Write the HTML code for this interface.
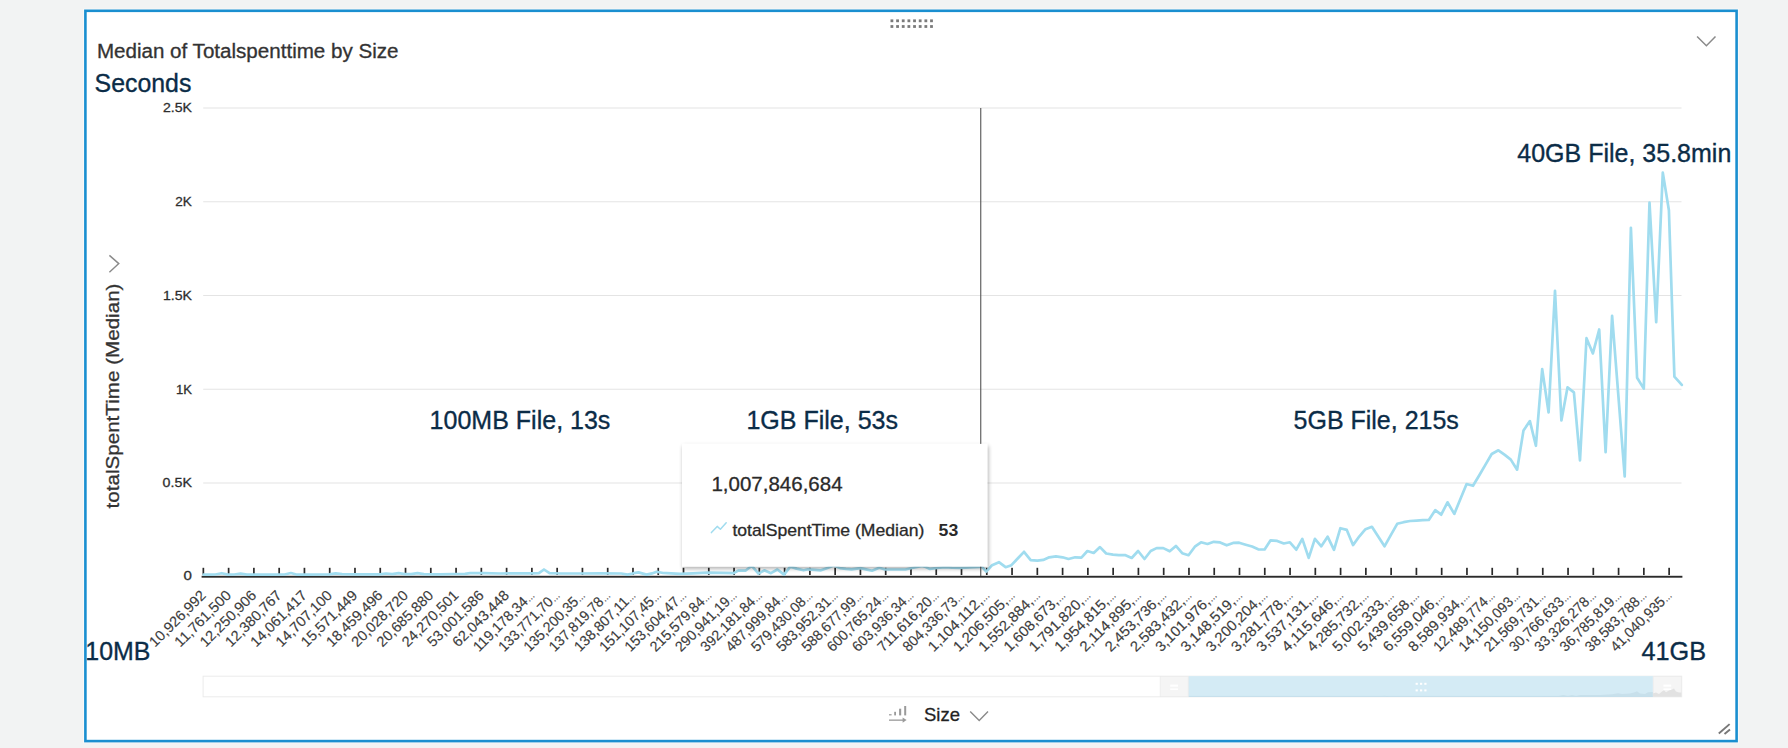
<!DOCTYPE html>
<html lang="en"><head><meta charset="utf-8"><title>Median of Totalspenttime by Size</title>
<style>
html,body{margin:0;padding:0;background:#f2f3f3;}
body{width:1788px;height:748px;overflow:hidden;font-family:"Liberation Sans", sans-serif;}
svg{position:absolute;left:0;top:0;display:block;}
text{font-family:"Liberation Sans", sans-serif;}
.h{stroke:#333;stroke-width:0.3px;paint-order:stroke;}
.x{stroke:#3d3d3d;stroke-width:0.15px;paint-order:stroke;}
.a{stroke:#0b2c47;stroke-width:0.35px;paint-order:stroke;}
</style></head><body>
<svg width="1788" height="748" viewBox="0 0 1788 748">
<defs><filter id="sh" x="-10%" y="-10%" width="120%" height="125%"><feGaussianBlur in="SourceAlpha" stdDeviation="2.2"/><feOffset dx="0.5" dy="1.5"/><feComponentTransfer><feFuncA type="linear" slope="0.33"/></feComponentTransfer><feMerge><feMergeNode/><feMergeNode in="SourceGraphic"/></feMerge></filter></defs>
<rect x="0" y="0" width="1788" height="748" fill="#f2f3f3"/>
<rect x="83.3" y="8.7" width="1655.4" height="734.5" fill="#fbfbfb"/>
<rect x="84.1" y="9.5" width="1653.8" height="732.9" fill="#ffffff"/>
<rect x="890.50" y="19.40" width="2.8" height="2.8" fill="#7a7a7a"/>
<rect x="896.16" y="19.40" width="2.8" height="2.8" fill="#7a7a7a"/>
<rect x="901.81" y="19.40" width="2.8" height="2.8" fill="#7a7a7a"/>
<rect x="907.47" y="19.40" width="2.8" height="2.8" fill="#7a7a7a"/>
<rect x="913.13" y="19.40" width="2.8" height="2.8" fill="#7a7a7a"/>
<rect x="918.78" y="19.40" width="2.8" height="2.8" fill="#7a7a7a"/>
<rect x="924.44" y="19.40" width="2.8" height="2.8" fill="#7a7a7a"/>
<rect x="930.10" y="19.40" width="2.8" height="2.8" fill="#7a7a7a"/>
<rect x="890.50" y="25.10" width="2.8" height="2.8" fill="#7a7a7a"/>
<rect x="896.16" y="25.10" width="2.8" height="2.8" fill="#7a7a7a"/>
<rect x="901.81" y="25.10" width="2.8" height="2.8" fill="#7a7a7a"/>
<rect x="907.47" y="25.10" width="2.8" height="2.8" fill="#7a7a7a"/>
<rect x="913.13" y="25.10" width="2.8" height="2.8" fill="#7a7a7a"/>
<rect x="918.78" y="25.10" width="2.8" height="2.8" fill="#7a7a7a"/>
<rect x="924.44" y="25.10" width="2.8" height="2.8" fill="#7a7a7a"/>
<rect x="930.10" y="25.10" width="2.8" height="2.8" fill="#7a7a7a"/>
<polyline points="1697.1,36.5 1706.4,45.7 1715.5,36.5" fill="none" stroke="#8a8a8a" stroke-width="1.5"/>
<text class="h" id="title" x="96.9" y="57.5" font-size="19.5" fill="#333" textLength="301.6" lengthAdjust="spacingAndGlyphs">Median of Totalspenttime by Size</text>
<line x1="203.2" x2="1681.5" y1="108.00" y2="108.00" stroke="#e4e4e4" stroke-width="1.2"/>
<line x1="203.2" x2="1681.5" y1="201.75" y2="201.75" stroke="#e4e4e4" stroke-width="1.2"/>
<line x1="203.2" x2="1681.5" y1="295.50" y2="295.50" stroke="#e4e4e4" stroke-width="1.2"/>
<line x1="203.2" x2="1681.5" y1="389.25" y2="389.25" stroke="#e4e4e4" stroke-width="1.2"/>
<line x1="203.2" x2="1681.5" y1="483.00" y2="483.00" stroke="#e4e4e4" stroke-width="1.2"/>
<text class="h" x="162.90" y="112.40" font-size="13.2" fill="#2e2e2e" textLength="29.0" lengthAdjust="spacingAndGlyphs">2.5K</text>
<text class="h" x="175.30" y="206.15" font-size="13.2" fill="#2e2e2e" textLength="16.6" lengthAdjust="spacingAndGlyphs">2K</text>
<text class="h" x="162.90" y="299.90" font-size="13.2" fill="#2e2e2e" textLength="29.0" lengthAdjust="spacingAndGlyphs">1.5K</text>
<text class="h" x="175.90" y="393.65" font-size="13.2" fill="#2e2e2e" textLength="16.0" lengthAdjust="spacingAndGlyphs">1K</text>
<text class="h" x="162.60" y="487.40" font-size="13.2" fill="#2e2e2e" textLength="29.3" lengthAdjust="spacingAndGlyphs">0.5K</text>
<text class="h" x="183.50" y="580.00" font-size="13.2" fill="#2e2e2e" textLength="8.4" lengthAdjust="spacingAndGlyphs">0</text>
<text class="h" id="ytitle" transform="translate(118.5,508.5) rotate(-90)" font-size="18.8" fill="#333" textLength="225" lengthAdjust="spacingAndGlyphs">totalSpentTime (Median)</text>
<polyline points="109.4,255.4 118.8,263.6 109.4,272.2" fill="none" stroke="#8a8a8a" stroke-width="1.4"/>
<rect x="201.6" y="575.8" width="1480.8" height="1.9" fill="#2b2b2b"/>
<rect x="202.50" y="567.8" width="1.7" height="7.2" fill="#2a2a2a"/>
<rect x="227.77" y="567.8" width="1.7" height="7.2" fill="#2a2a2a"/>
<rect x="253.04" y="567.8" width="1.7" height="7.2" fill="#2a2a2a"/>
<rect x="278.32" y="567.8" width="1.7" height="7.2" fill="#2a2a2a"/>
<rect x="303.59" y="567.8" width="1.7" height="7.2" fill="#2a2a2a"/>
<rect x="328.86" y="567.8" width="1.7" height="7.2" fill="#2a2a2a"/>
<rect x="354.13" y="567.8" width="1.7" height="7.2" fill="#2a2a2a"/>
<rect x="379.40" y="567.8" width="1.7" height="7.2" fill="#2a2a2a"/>
<rect x="404.68" y="567.8" width="1.7" height="7.2" fill="#2a2a2a"/>
<rect x="429.95" y="567.8" width="1.7" height="7.2" fill="#2a2a2a"/>
<rect x="455.22" y="567.8" width="1.7" height="7.2" fill="#2a2a2a"/>
<rect x="480.49" y="567.8" width="1.7" height="7.2" fill="#2a2a2a"/>
<rect x="505.76" y="567.8" width="1.7" height="7.2" fill="#2a2a2a"/>
<rect x="531.04" y="567.8" width="1.7" height="7.2" fill="#2a2a2a"/>
<rect x="556.31" y="567.8" width="1.7" height="7.2" fill="#2a2a2a"/>
<rect x="581.58" y="567.8" width="1.7" height="7.2" fill="#2a2a2a"/>
<rect x="606.85" y="567.8" width="1.7" height="7.2" fill="#2a2a2a"/>
<rect x="632.12" y="567.8" width="1.7" height="7.2" fill="#2a2a2a"/>
<rect x="657.40" y="567.8" width="1.7" height="7.2" fill="#2a2a2a"/>
<rect x="682.67" y="567.8" width="1.7" height="7.2" fill="#2a2a2a"/>
<rect x="707.94" y="567.8" width="1.7" height="7.2" fill="#2a2a2a"/>
<rect x="733.21" y="567.8" width="1.7" height="7.2" fill="#2a2a2a"/>
<rect x="758.48" y="567.8" width="1.7" height="7.2" fill="#2a2a2a"/>
<rect x="783.76" y="567.8" width="1.7" height="7.2" fill="#2a2a2a"/>
<rect x="809.03" y="567.8" width="1.7" height="7.2" fill="#2a2a2a"/>
<rect x="834.30" y="567.8" width="1.7" height="7.2" fill="#2a2a2a"/>
<rect x="859.57" y="567.8" width="1.7" height="7.2" fill="#2a2a2a"/>
<rect x="884.84" y="567.8" width="1.7" height="7.2" fill="#2a2a2a"/>
<rect x="910.12" y="567.8" width="1.7" height="7.2" fill="#2a2a2a"/>
<rect x="935.39" y="567.8" width="1.7" height="7.2" fill="#2a2a2a"/>
<rect x="960.66" y="567.8" width="1.7" height="7.2" fill="#2a2a2a"/>
<rect x="985.93" y="567.8" width="1.7" height="7.2" fill="#2a2a2a"/>
<rect x="1011.20" y="567.8" width="1.7" height="7.2" fill="#2a2a2a"/>
<rect x="1036.48" y="567.8" width="1.7" height="7.2" fill="#2a2a2a"/>
<rect x="1061.75" y="567.8" width="1.7" height="7.2" fill="#2a2a2a"/>
<rect x="1087.02" y="567.8" width="1.7" height="7.2" fill="#2a2a2a"/>
<rect x="1112.29" y="567.8" width="1.7" height="7.2" fill="#2a2a2a"/>
<rect x="1137.56" y="567.8" width="1.7" height="7.2" fill="#2a2a2a"/>
<rect x="1162.84" y="567.8" width="1.7" height="7.2" fill="#2a2a2a"/>
<rect x="1188.11" y="567.8" width="1.7" height="7.2" fill="#2a2a2a"/>
<rect x="1213.38" y="567.8" width="1.7" height="7.2" fill="#2a2a2a"/>
<rect x="1238.65" y="567.8" width="1.7" height="7.2" fill="#2a2a2a"/>
<rect x="1263.92" y="567.8" width="1.7" height="7.2" fill="#2a2a2a"/>
<rect x="1289.20" y="567.8" width="1.7" height="7.2" fill="#2a2a2a"/>
<rect x="1314.47" y="567.8" width="1.7" height="7.2" fill="#2a2a2a"/>
<rect x="1339.74" y="567.8" width="1.7" height="7.2" fill="#2a2a2a"/>
<rect x="1365.01" y="567.8" width="1.7" height="7.2" fill="#2a2a2a"/>
<rect x="1390.28" y="567.8" width="1.7" height="7.2" fill="#2a2a2a"/>
<rect x="1415.56" y="567.8" width="1.7" height="7.2" fill="#2a2a2a"/>
<rect x="1440.83" y="567.8" width="1.7" height="7.2" fill="#2a2a2a"/>
<rect x="1466.10" y="567.8" width="1.7" height="7.2" fill="#2a2a2a"/>
<rect x="1491.37" y="567.8" width="1.7" height="7.2" fill="#2a2a2a"/>
<rect x="1516.64" y="567.8" width="1.7" height="7.2" fill="#2a2a2a"/>
<rect x="1541.92" y="567.8" width="1.7" height="7.2" fill="#2a2a2a"/>
<rect x="1567.19" y="567.8" width="1.7" height="7.2" fill="#2a2a2a"/>
<rect x="1592.46" y="567.8" width="1.7" height="7.2" fill="#2a2a2a"/>
<rect x="1617.73" y="567.8" width="1.7" height="7.2" fill="#2a2a2a"/>
<rect x="1643.00" y="567.8" width="1.7" height="7.2" fill="#2a2a2a"/>
<rect x="1668.28" y="567.8" width="1.7" height="7.2" fill="#2a2a2a"/>
<polyline fill="none" stroke="#a0dcef" stroke-width="2.7" stroke-linejoin="round" stroke-linecap="round" points="203.6,574.6 209.9,574.6 215.4,574.5 221.7,573.2 228.0,574.6 234.3,574.5 240.6,573.7 246.9,574.6 259.5,574.6 272.1,574.6 284.6,574.5 290.9,573.0 297.2,574.7 310.0,574.6 323.0,574.5 329.4,574.4 335.7,573.3 342.0,574.2 355.0,574.3 367.0,574.3 379.7,574.3 386.0,573.5 392.3,574.2 398.6,573.1 404.9,574.2 411.2,574.1 417.5,573.2 423.8,574.2 440.0,574.3 452.0,574.0 465.0,573.8 470.0,573.2 483.6,573.2 500.0,573.5 520.0,573.3 532.6,573.3 538.9,573.2 544.0,569.5 549.5,573.2 560.0,573.5 580.0,573.5 600.0,573.4 621.3,573.5 627.6,574.6 633.9,573.2 638.5,572.4 646.5,574.6 652.0,573.4 656.7,571.7 663.0,573.0 666.8,573.2 680.0,573.9 693.0,573.3 707.6,572.7 720.0,572.9 733.8,573.2 738.2,570.7 745.4,570.7 751.8,565.8 758.5,573.6 764.3,570.3 770.9,573.2 777.4,569.5 784.0,574.6 790.3,566.6 796.6,568.6 803.6,570.3 808.0,569.3 815.0,569.9 821.0,570.3 827.5,567.9 833.8,565.6 840.0,568.1 846.0,568.8 851.6,569.3 860.3,568.1 866.0,569.4 872.0,570.7 879.2,567.8 885.0,569.5 895.0,569.5 905.4,569.5 912.0,568.0 918.5,566.6 922.0,565.9 925.7,567.0 930.0,568.9 937.0,568.0 945.2,567.2 952.0,567.6 960.3,567.8 970.0,567.3 980.0,566.9 982.0,566.9 986.3,571.6 992.1,565.2 998.9,562.2 1005.6,567.2 1011.4,565.2 1017.7,558.5 1024.0,551.8 1030.7,560.2 1037.4,560.7 1043.3,559.9 1049.2,557.3 1055.9,556.3 1062.6,557.3 1068.5,559.0 1075.2,557.3 1081.4,557.7 1087.4,551.0 1093.7,553.0 1100.0,547.1 1106.2,553.5 1113.0,554.7 1118.8,555.2 1125.5,555.2 1131.7,558.0 1138.1,551.0 1144.5,559.0 1150.7,551.0 1156.6,548.1 1163.3,548.1 1169.7,551.3 1175.9,545.9 1182.2,553.2 1188.5,555.2 1195.2,546.3 1201.0,542.3 1207.5,544.0 1213.8,541.8 1220.1,542.4 1226.7,545.3 1233.1,542.9 1239.1,542.7 1245.7,544.7 1252.1,546.5 1258.2,549.3 1264.6,549.5 1270.6,540.3 1277.2,540.9 1283.8,543.5 1289.9,542.3 1296.3,549.7 1302.3,538.9 1308.7,557.9 1314.9,538.9 1321.3,546.3 1327.6,536.7 1334.0,549.9 1340.4,528.2 1346.8,529.9 1353.0,545.1 1359.4,536.3 1365.5,529.2 1371.9,526.8 1378.2,536.5 1384.5,546.3 1390.8,535.1 1397.2,523.8 1403.6,522.2 1410.0,521.0 1416.6,520.6 1422.7,520.2 1428.8,519.9 1435.2,510.2 1441.2,514.7 1447.5,502.3 1454.3,513.9 1460.4,498.9 1466.6,484.0 1473.0,485.8 1479.3,475.2 1485.5,464.6 1491.7,454.0 1498.4,450.3 1504.8,454.9 1510.8,459.6 1517.1,469.7 1523.5,430.4 1529.9,421.1 1535.9,445.8 1542.2,369.1 1548.6,412.5 1555.0,290.8 1561.4,420.5 1567.5,387.4 1573.9,392.4 1580.0,460.3 1586.5,338.2 1592.9,353.4 1599.2,329.5 1605.6,452.1 1612.1,315.9 1618.4,396.2 1624.7,476.5 1630.9,227.9 1637.1,377.7 1643.8,388.6 1649.5,202.5 1656.2,322.2 1662.8,172.6 1668.9,210.2 1674.4,376.6 1681.8,384.9"/>
<rect x="980.2" y="108" width="1.1" height="468" fill="#555"/>
<text class="x" transform="translate(206.70,596.20) rotate(-45)" text-anchor="end" font-size="14.5" fill="#3d3d3d" textLength="73" lengthAdjust="spacingAndGlyphs">10,926,992</text>
<text class="x" transform="translate(231.97,596.20) rotate(-45)" text-anchor="end" font-size="14.5" fill="#3d3d3d" textLength="73" lengthAdjust="spacingAndGlyphs">11,761,500</text>
<text class="x" transform="translate(257.24,596.20) rotate(-45)" text-anchor="end" font-size="14.5" fill="#3d3d3d" textLength="73" lengthAdjust="spacingAndGlyphs">12,250,906</text>
<text class="x" transform="translate(282.52,596.20) rotate(-45)" text-anchor="end" font-size="14.5" fill="#3d3d3d" textLength="73" lengthAdjust="spacingAndGlyphs">12,380,767</text>
<text class="x" transform="translate(307.79,596.20) rotate(-45)" text-anchor="end" font-size="14.5" fill="#3d3d3d" textLength="73" lengthAdjust="spacingAndGlyphs">14,061,417</text>
<text class="x" transform="translate(333.06,596.20) rotate(-45)" text-anchor="end" font-size="14.5" fill="#3d3d3d" textLength="73" lengthAdjust="spacingAndGlyphs">14,707,100</text>
<text class="x" transform="translate(358.33,596.20) rotate(-45)" text-anchor="end" font-size="14.5" fill="#3d3d3d" textLength="73" lengthAdjust="spacingAndGlyphs">15,571,449</text>
<text class="x" transform="translate(383.60,596.20) rotate(-45)" text-anchor="end" font-size="14.5" fill="#3d3d3d" textLength="73" lengthAdjust="spacingAndGlyphs">18,459,496</text>
<text class="x" transform="translate(408.88,596.20) rotate(-45)" text-anchor="end" font-size="14.5" fill="#3d3d3d" textLength="73" lengthAdjust="spacingAndGlyphs">20,028,720</text>
<text class="x" transform="translate(434.15,596.20) rotate(-45)" text-anchor="end" font-size="14.5" fill="#3d3d3d" textLength="73" lengthAdjust="spacingAndGlyphs">20,685,880</text>
<text class="x" transform="translate(459.42,596.20) rotate(-45)" text-anchor="end" font-size="14.5" fill="#3d3d3d" textLength="73" lengthAdjust="spacingAndGlyphs">24,270,501</text>
<text class="x" transform="translate(484.69,596.20) rotate(-45)" text-anchor="end" font-size="14.5" fill="#3d3d3d" textLength="73" lengthAdjust="spacingAndGlyphs">53,001,586</text>
<text class="x" transform="translate(509.96,596.20) rotate(-45)" text-anchor="end" font-size="14.5" fill="#3d3d3d" textLength="73" lengthAdjust="spacingAndGlyphs">62,043,448</text>
<text class="x" transform="translate(535.24,596.20) rotate(-45)" text-anchor="end" font-size="14.5" fill="#3d3d3d"><tspan textLength="70.6" lengthAdjust="spacingAndGlyphs">119,178,34</tspan><tspan font-size="10" fill="#4a4a4a" dx="0.5" textLength="8.6" lengthAdjust="spacing">...</tspan></text>
<text class="x" transform="translate(560.51,596.20) rotate(-45)" text-anchor="end" font-size="14.5" fill="#3d3d3d"><tspan textLength="70.6" lengthAdjust="spacingAndGlyphs">133,771,70</tspan><tspan font-size="10" fill="#4a4a4a" dx="0.5" textLength="8.6" lengthAdjust="spacing">...</tspan></text>
<text class="x" transform="translate(585.78,596.20) rotate(-45)" text-anchor="end" font-size="14.5" fill="#3d3d3d"><tspan textLength="70.6" lengthAdjust="spacingAndGlyphs">135,200,35</tspan><tspan font-size="10" fill="#4a4a4a" dx="0.5" textLength="8.6" lengthAdjust="spacing">...</tspan></text>
<text class="x" transform="translate(611.05,596.20) rotate(-45)" text-anchor="end" font-size="14.5" fill="#3d3d3d"><tspan textLength="70.6" lengthAdjust="spacingAndGlyphs">137,819,78</tspan><tspan font-size="10" fill="#4a4a4a" dx="0.5" textLength="8.6" lengthAdjust="spacing">...</tspan></text>
<text class="x" transform="translate(636.32,596.20) rotate(-45)" text-anchor="end" font-size="14.5" fill="#3d3d3d"><tspan textLength="70.6" lengthAdjust="spacingAndGlyphs">138,807,11</tspan><tspan font-size="10" fill="#4a4a4a" dx="0.5" textLength="8.6" lengthAdjust="spacing">...</tspan></text>
<text class="x" transform="translate(661.60,596.20) rotate(-45)" text-anchor="end" font-size="14.5" fill="#3d3d3d"><tspan textLength="70.6" lengthAdjust="spacingAndGlyphs">151,107,45</tspan><tspan font-size="10" fill="#4a4a4a" dx="0.5" textLength="8.6" lengthAdjust="spacing">...</tspan></text>
<text class="x" transform="translate(686.87,596.20) rotate(-45)" text-anchor="end" font-size="14.5" fill="#3d3d3d"><tspan textLength="70.6" lengthAdjust="spacingAndGlyphs">153,604,47</tspan><tspan font-size="10" fill="#4a4a4a" dx="0.5" textLength="8.6" lengthAdjust="spacing">...</tspan></text>
<text class="x" transform="translate(712.14,596.20) rotate(-45)" text-anchor="end" font-size="14.5" fill="#3d3d3d"><tspan textLength="70.6" lengthAdjust="spacingAndGlyphs">215,579,84</tspan><tspan font-size="10" fill="#4a4a4a" dx="0.5" textLength="8.6" lengthAdjust="spacing">...</tspan></text>
<text class="x" transform="translate(737.41,596.20) rotate(-45)" text-anchor="end" font-size="14.5" fill="#3d3d3d"><tspan textLength="70.6" lengthAdjust="spacingAndGlyphs">290,941,19</tspan><tspan font-size="10" fill="#4a4a4a" dx="0.5" textLength="8.6" lengthAdjust="spacing">...</tspan></text>
<text class="x" transform="translate(762.68,596.20) rotate(-45)" text-anchor="end" font-size="14.5" fill="#3d3d3d"><tspan textLength="70.6" lengthAdjust="spacingAndGlyphs">392,181,84</tspan><tspan font-size="10" fill="#4a4a4a" dx="0.5" textLength="8.6" lengthAdjust="spacing">...</tspan></text>
<text class="x" transform="translate(787.96,596.20) rotate(-45)" text-anchor="end" font-size="14.5" fill="#3d3d3d"><tspan textLength="70.6" lengthAdjust="spacingAndGlyphs">487,999,84</tspan><tspan font-size="10" fill="#4a4a4a" dx="0.5" textLength="8.6" lengthAdjust="spacing">...</tspan></text>
<text class="x" transform="translate(813.23,596.20) rotate(-45)" text-anchor="end" font-size="14.5" fill="#3d3d3d"><tspan textLength="70.6" lengthAdjust="spacingAndGlyphs">579,430,08</tspan><tspan font-size="10" fill="#4a4a4a" dx="0.5" textLength="8.6" lengthAdjust="spacing">...</tspan></text>
<text class="x" transform="translate(838.50,596.20) rotate(-45)" text-anchor="end" font-size="14.5" fill="#3d3d3d"><tspan textLength="70.6" lengthAdjust="spacingAndGlyphs">583,952,31</tspan><tspan font-size="10" fill="#4a4a4a" dx="0.5" textLength="8.6" lengthAdjust="spacing">...</tspan></text>
<text class="x" transform="translate(863.77,596.20) rotate(-45)" text-anchor="end" font-size="14.5" fill="#3d3d3d"><tspan textLength="70.6" lengthAdjust="spacingAndGlyphs">588,677,99</tspan><tspan font-size="10" fill="#4a4a4a" dx="0.5" textLength="8.6" lengthAdjust="spacing">...</tspan></text>
<text class="x" transform="translate(889.04,596.20) rotate(-45)" text-anchor="end" font-size="14.5" fill="#3d3d3d"><tspan textLength="70.6" lengthAdjust="spacingAndGlyphs">600,765,24</tspan><tspan font-size="10" fill="#4a4a4a" dx="0.5" textLength="8.6" lengthAdjust="spacing">...</tspan></text>
<text class="x" transform="translate(914.32,596.20) rotate(-45)" text-anchor="end" font-size="14.5" fill="#3d3d3d"><tspan textLength="70.6" lengthAdjust="spacingAndGlyphs">603,936,34</tspan><tspan font-size="10" fill="#4a4a4a" dx="0.5" textLength="8.6" lengthAdjust="spacing">...</tspan></text>
<text class="x" transform="translate(939.59,596.20) rotate(-45)" text-anchor="end" font-size="14.5" fill="#3d3d3d"><tspan textLength="70.6" lengthAdjust="spacingAndGlyphs">711,616,20</tspan><tspan font-size="10" fill="#4a4a4a" dx="0.5" textLength="8.6" lengthAdjust="spacing">...</tspan></text>
<text class="x" transform="translate(964.86,596.20) rotate(-45)" text-anchor="end" font-size="14.5" fill="#3d3d3d"><tspan textLength="70.6" lengthAdjust="spacingAndGlyphs">804,336,73</tspan><tspan font-size="10" fill="#4a4a4a" dx="0.5" textLength="8.6" lengthAdjust="spacing">...</tspan></text>
<text class="x" transform="translate(990.13,596.20) rotate(-45)" text-anchor="end" font-size="14.5" fill="#3d3d3d"><tspan textLength="70.6" lengthAdjust="spacingAndGlyphs">1,104,112,</tspan><tspan font-size="10" fill="#4a4a4a" dx="0.5" textLength="8.6" lengthAdjust="spacing">...</tspan></text>
<text class="x" transform="translate(1015.40,596.20) rotate(-45)" text-anchor="end" font-size="14.5" fill="#3d3d3d"><tspan textLength="70.6" lengthAdjust="spacingAndGlyphs">1,206,505,</tspan><tspan font-size="10" fill="#4a4a4a" dx="0.5" textLength="8.6" lengthAdjust="spacing">...</tspan></text>
<text class="x" transform="translate(1040.68,596.20) rotate(-45)" text-anchor="end" font-size="14.5" fill="#3d3d3d"><tspan textLength="70.6" lengthAdjust="spacingAndGlyphs">1,552,884,</tspan><tspan font-size="10" fill="#4a4a4a" dx="0.5" textLength="8.6" lengthAdjust="spacing">...</tspan></text>
<text class="x" transform="translate(1065.95,596.20) rotate(-45)" text-anchor="end" font-size="14.5" fill="#3d3d3d"><tspan textLength="70.6" lengthAdjust="spacingAndGlyphs">1,608,673,</tspan><tspan font-size="10" fill="#4a4a4a" dx="0.5" textLength="8.6" lengthAdjust="spacing">...</tspan></text>
<text class="x" transform="translate(1091.22,596.20) rotate(-45)" text-anchor="end" font-size="14.5" fill="#3d3d3d"><tspan textLength="70.6" lengthAdjust="spacingAndGlyphs">1,791,820,</tspan><tspan font-size="10" fill="#4a4a4a" dx="0.5" textLength="8.6" lengthAdjust="spacing">...</tspan></text>
<text class="x" transform="translate(1116.49,596.20) rotate(-45)" text-anchor="end" font-size="14.5" fill="#3d3d3d"><tspan textLength="70.6" lengthAdjust="spacingAndGlyphs">1,954,815,</tspan><tspan font-size="10" fill="#4a4a4a" dx="0.5" textLength="8.6" lengthAdjust="spacing">...</tspan></text>
<text class="x" transform="translate(1141.76,596.20) rotate(-45)" text-anchor="end" font-size="14.5" fill="#3d3d3d"><tspan textLength="70.6" lengthAdjust="spacingAndGlyphs">2,114,895,</tspan><tspan font-size="10" fill="#4a4a4a" dx="0.5" textLength="8.6" lengthAdjust="spacing">...</tspan></text>
<text class="x" transform="translate(1167.04,596.20) rotate(-45)" text-anchor="end" font-size="14.5" fill="#3d3d3d"><tspan textLength="70.6" lengthAdjust="spacingAndGlyphs">2,453,736,</tspan><tspan font-size="10" fill="#4a4a4a" dx="0.5" textLength="8.6" lengthAdjust="spacing">...</tspan></text>
<text class="x" transform="translate(1192.31,596.20) rotate(-45)" text-anchor="end" font-size="14.5" fill="#3d3d3d"><tspan textLength="70.6" lengthAdjust="spacingAndGlyphs">2,583,432,</tspan><tspan font-size="10" fill="#4a4a4a" dx="0.5" textLength="8.6" lengthAdjust="spacing">...</tspan></text>
<text class="x" transform="translate(1217.58,596.20) rotate(-45)" text-anchor="end" font-size="14.5" fill="#3d3d3d"><tspan textLength="70.6" lengthAdjust="spacingAndGlyphs">3,101,976,</tspan><tspan font-size="10" fill="#4a4a4a" dx="0.5" textLength="8.6" lengthAdjust="spacing">...</tspan></text>
<text class="x" transform="translate(1242.85,596.20) rotate(-45)" text-anchor="end" font-size="14.5" fill="#3d3d3d"><tspan textLength="70.6" lengthAdjust="spacingAndGlyphs">3,148,519,</tspan><tspan font-size="10" fill="#4a4a4a" dx="0.5" textLength="8.6" lengthAdjust="spacing">...</tspan></text>
<text class="x" transform="translate(1268.12,596.20) rotate(-45)" text-anchor="end" font-size="14.5" fill="#3d3d3d"><tspan textLength="70.6" lengthAdjust="spacingAndGlyphs">3,200,204,</tspan><tspan font-size="10" fill="#4a4a4a" dx="0.5" textLength="8.6" lengthAdjust="spacing">...</tspan></text>
<text class="x" transform="translate(1293.40,596.20) rotate(-45)" text-anchor="end" font-size="14.5" fill="#3d3d3d"><tspan textLength="70.6" lengthAdjust="spacingAndGlyphs">3,281,778,</tspan><tspan font-size="10" fill="#4a4a4a" dx="0.5" textLength="8.6" lengthAdjust="spacing">...</tspan></text>
<text class="x" transform="translate(1318.67,596.20) rotate(-45)" text-anchor="end" font-size="14.5" fill="#3d3d3d"><tspan textLength="70.6" lengthAdjust="spacingAndGlyphs">3,537,131,</tspan><tspan font-size="10" fill="#4a4a4a" dx="0.5" textLength="8.6" lengthAdjust="spacing">...</tspan></text>
<text class="x" transform="translate(1343.94,596.20) rotate(-45)" text-anchor="end" font-size="14.5" fill="#3d3d3d"><tspan textLength="70.6" lengthAdjust="spacingAndGlyphs">4,115,646,</tspan><tspan font-size="10" fill="#4a4a4a" dx="0.5" textLength="8.6" lengthAdjust="spacing">...</tspan></text>
<text class="x" transform="translate(1369.21,596.20) rotate(-45)" text-anchor="end" font-size="14.5" fill="#3d3d3d"><tspan textLength="70.6" lengthAdjust="spacingAndGlyphs">4,285,732,</tspan><tspan font-size="10" fill="#4a4a4a" dx="0.5" textLength="8.6" lengthAdjust="spacing">...</tspan></text>
<text class="x" transform="translate(1394.48,596.20) rotate(-45)" text-anchor="end" font-size="14.5" fill="#3d3d3d"><tspan textLength="70.6" lengthAdjust="spacingAndGlyphs">5,002,333,</tspan><tspan font-size="10" fill="#4a4a4a" dx="0.5" textLength="8.6" lengthAdjust="spacing">...</tspan></text>
<text class="x" transform="translate(1419.76,596.20) rotate(-45)" text-anchor="end" font-size="14.5" fill="#3d3d3d"><tspan textLength="70.6" lengthAdjust="spacingAndGlyphs">5,439,658,</tspan><tspan font-size="10" fill="#4a4a4a" dx="0.5" textLength="8.6" lengthAdjust="spacing">...</tspan></text>
<text class="x" transform="translate(1445.03,596.20) rotate(-45)" text-anchor="end" font-size="14.5" fill="#3d3d3d"><tspan textLength="70.6" lengthAdjust="spacingAndGlyphs">6,559,046,</tspan><tspan font-size="10" fill="#4a4a4a" dx="0.5" textLength="8.6" lengthAdjust="spacing">...</tspan></text>
<text class="x" transform="translate(1470.30,596.20) rotate(-45)" text-anchor="end" font-size="14.5" fill="#3d3d3d"><tspan textLength="70.6" lengthAdjust="spacingAndGlyphs">8,589,934,</tspan><tspan font-size="10" fill="#4a4a4a" dx="0.5" textLength="8.6" lengthAdjust="spacing">...</tspan></text>
<text class="x" transform="translate(1495.57,596.20) rotate(-45)" text-anchor="end" font-size="14.5" fill="#3d3d3d"><tspan textLength="70.6" lengthAdjust="spacingAndGlyphs">12,489,774</tspan><tspan font-size="10" fill="#4a4a4a" dx="0.5" textLength="8.6" lengthAdjust="spacing">...</tspan></text>
<text class="x" transform="translate(1520.84,596.20) rotate(-45)" text-anchor="end" font-size="14.5" fill="#3d3d3d"><tspan textLength="70.6" lengthAdjust="spacingAndGlyphs">14,150,093</tspan><tspan font-size="10" fill="#4a4a4a" dx="0.5" textLength="8.6" lengthAdjust="spacing">...</tspan></text>
<text class="x" transform="translate(1546.12,596.20) rotate(-45)" text-anchor="end" font-size="14.5" fill="#3d3d3d"><tspan textLength="70.6" lengthAdjust="spacingAndGlyphs">21,569,731</tspan><tspan font-size="10" fill="#4a4a4a" dx="0.5" textLength="8.6" lengthAdjust="spacing">...</tspan></text>
<text class="x" transform="translate(1571.39,596.20) rotate(-45)" text-anchor="end" font-size="14.5" fill="#3d3d3d"><tspan textLength="70.6" lengthAdjust="spacingAndGlyphs">30,766,633</tspan><tspan font-size="10" fill="#4a4a4a" dx="0.5" textLength="8.6" lengthAdjust="spacing">...</tspan></text>
<text class="x" transform="translate(1596.66,596.20) rotate(-45)" text-anchor="end" font-size="14.5" fill="#3d3d3d"><tspan textLength="70.6" lengthAdjust="spacingAndGlyphs">33,326,278</tspan><tspan font-size="10" fill="#4a4a4a" dx="0.5" textLength="8.6" lengthAdjust="spacing">...</tspan></text>
<text class="x" transform="translate(1621.93,596.20) rotate(-45)" text-anchor="end" font-size="14.5" fill="#3d3d3d"><tspan textLength="70.6" lengthAdjust="spacingAndGlyphs">36,785,819</tspan><tspan font-size="10" fill="#4a4a4a" dx="0.5" textLength="8.6" lengthAdjust="spacing">...</tspan></text>
<text class="x" transform="translate(1647.20,596.20) rotate(-45)" text-anchor="end" font-size="14.5" fill="#3d3d3d"><tspan textLength="70.6" lengthAdjust="spacingAndGlyphs">38,583,788</tspan><tspan font-size="10" fill="#4a4a4a" dx="0.5" textLength="8.6" lengthAdjust="spacing">...</tspan></text>
<text class="x" transform="translate(1672.48,596.20) rotate(-45)" text-anchor="end" font-size="14.5" fill="#3d3d3d"><tspan textLength="70.6" lengthAdjust="spacingAndGlyphs">41,040,935</tspan><tspan font-size="10" fill="#4a4a4a" dx="0.5" textLength="8.6" lengthAdjust="spacing">...</tspan></text>
<text class="a" x="94.60" y="92.30" font-size="26.5" fill="#0b2c47" textLength="96.8" lengthAdjust="spacingAndGlyphs">Seconds</text>
<text class="a" x="429.60" y="429.10" font-size="26.0" fill="#0b2c47" textLength="180.8" lengthAdjust="spacingAndGlyphs">100MB File, 13s</text>
<text class="a" x="746.40" y="429.10" font-size="26.0" fill="#0b2c47" textLength="151.6" lengthAdjust="spacingAndGlyphs">1GB File, 53s</text>
<text class="a" x="1293.60" y="428.50" font-size="26.0" fill="#0b2c47" textLength="165.2" lengthAdjust="spacingAndGlyphs">5GB File, 215s</text>
<text class="a" x="1517.30" y="161.60" font-size="26.0" fill="#0b2c47" textLength="214.0" lengthAdjust="spacingAndGlyphs">40GB File, 35.8min</text>
<text class="a" x="85.30" y="659.80" font-size="26.0" fill="#0b2c47" textLength="65.1" lengthAdjust="spacingAndGlyphs">10MB</text>
<text class="a" x="1641.40" y="659.80" font-size="26.0" fill="#0b2c47" textLength="64.6" lengthAdjust="spacingAndGlyphs">41GB</text>
<rect x="203.1" y="676.2" width="1478.6" height="20.6" fill="#ffffff" stroke="#ebebeb" stroke-width="1"/>
<rect x="1188.1" y="676.1" width="464.8" height="20.8" fill="#d4ebf5"/>
<path d="M1386,696.9 L1386,696.2 L1382,695.6 L1390,696.4 L1480,696.4 L1540,696.3 L1559,696 L1563,694.9 L1568,696 L1572,695 L1576,696 L1580,695 L1600,694.9 L1612,694.2 L1618,693.2 L1622,694 L1630,693.6 L1634,692.6 L1637,691.2 L1640,693.6 L1645,693.9 L1648,692.3 L1652.9,692 L1652.9,696.9 Z" fill="#c8e0eb"/>
<rect x="1188.1" y="695.9" width="464.8" height="1" fill="#c6dfeb"/>
<rect x="1160.2" y="676.4" width="28.0" height="20.2" fill="#f5f5f5" stroke="#ebebeb" stroke-width="0.8"/>
<rect x="1653.3" y="676.4" width="28.0" height="20.2" fill="#f5f5f5" stroke="#ebebeb" stroke-width="0.8"/>
<path d="M1652.9,696.8 L1652.9,693.4 L1656,692.6 L1659,694 L1662,691.6 L1664,690.2 L1666,692.2 L1669,690.6 L1672,689.6 L1674,688.4 L1676,691.4 L1679,692.4 L1681.3,692.6 L1681.3,696.8 Z" fill="#e2e2e2"/>
<rect x="1170.2" y="684.6" width="7.8" height="2.1" fill="#ffffff"/>
<rect x="1170.2" y="688.4" width="7.8" height="1.6" fill="#ffffff"/>
<rect x="1663.4" y="684.6" width="7.8" height="2.1" fill="#ffffff"/>
<rect x="1663.4" y="688.4" width="7.8" height="1.6" fill="#ffffff"/>
<rect x="1415.6" y="682.8" width="2.2" height="2" fill="#ffffff"/>
<rect x="1420.0" y="682.8" width="2.2" height="2" fill="#ffffff"/>
<rect x="1424.3" y="682.8" width="2.2" height="2" fill="#ffffff"/>
<rect x="1415.6" y="689.4" width="2.2" height="2" fill="#ffffff"/>
<rect x="1420.0" y="689.4" width="2.2" height="2" fill="#ffffff"/>
<rect x="1424.3" y="689.4" width="2.2" height="2" fill="#ffffff"/>
<g fill="#9a9a9a">
<rect x="889" y="714.2" width="2.6" height="1.2"/>
<rect x="894.2" y="711.8" width="1.8" height="3.6"/>
<rect x="899.1" y="708.7" width="2.1" height="6.7"/>
<rect x="904.2" y="706.0" width="2.0" height="9.4"/>
<rect x="889" y="719.5" width="14.5" height="1.3"/>
<path d="M902.6,717.5 L906.6,720.1 L902.6,722.7 Z"/>
</g>
<text class="h" id="size" x="924.0" y="721.2" font-size="19" fill="#222" textLength="36" lengthAdjust="spacingAndGlyphs">Size</text>
<polyline points="970.2,711.4 979.2,720.4 988,711.4" fill="none" stroke="#8a8a8a" stroke-width="1.4"/>
<line x1="1718.8" y1="733.5" x2="1729.6" y2="724.1" stroke="#777" stroke-width="1.9"/>
<line x1="1724.5" y1="733.9" x2="1730.0" y2="729.4" stroke="#777" stroke-width="1.9"/>
<rect x="682" y="443.9" width="305.3" height="122.7" fill="#ffffff" filter="url(#sh)"/>
<text class="h" id="tt1" x="711.4" y="490.9" font-size="19.6" fill="#2a2a2a" textLength="131.2" lengthAdjust="spacingAndGlyphs">1,007,846,684</text>
<polyline points="711.4,532.6 717.2,526.4 720.4,529.2 726.2,522.8" fill="none" stroke="#a0dcef" stroke-width="1.5" stroke-linejoin="round" stroke-linecap="round"/>
<text class="h" id="tt2" x="732.4" y="536.4" font-size="17" fill="#2a2a2a" textLength="192" lengthAdjust="spacingAndGlyphs">totalSpentTime (Median)</text>
<text id="tt3" x="938.6" y="536.4" font-size="16.5" font-weight="bold" fill="#2a2a2a" textLength="19.6" lengthAdjust="spacingAndGlyphs">53</text>
<rect x="85.4" y="10.8" width="1651.2" height="730.3" fill="none" stroke="#1a8fd0" stroke-width="2.6"/>
</svg>
</body></html>
